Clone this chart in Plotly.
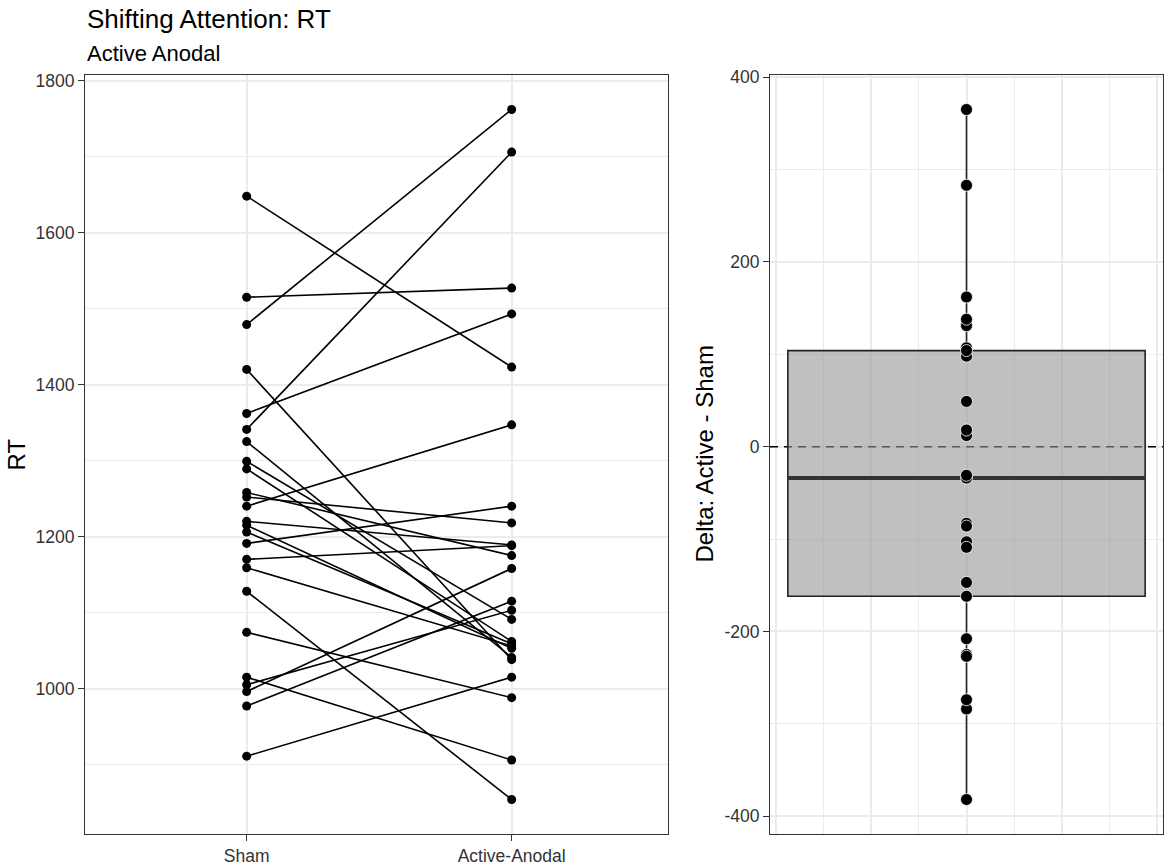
import numpy as np
import plotly.graph_objects as go

# paired reaction times, one entry per subject
conditions = ["Sham", "Active-Anodal"]
sham = [1648, 1515, 1479, 1420, 1362, 1341, 1325, 1299, 1289, 1258, 1252, 1240, 1220,
        1215, 1206, 1191, 1170, 1159, 1128, 1074, 1015, 1005, 996, 977, 911]
active = [1423, 1527, 1762, 1038, 1493, 1706, 1041, 1091, 1062, 1175, 1218, 1347, 1189,
          1053, 1059, 1240, 1188, 1056, 854, 988, 906, 1103, 1158, 1115, 1015]

rt_ticks = [1000, 1200, 1400, 1600, 1800]
delta_ticks = [-400, -200, 0, 200, 400]

title = "Shifting Attention: RT"
subtitle = "Active Anodal"

W, H = 1170, 865
BOX_W = 0.75
GRID = "#EBEBEB"
BORDER = "#333333"
TICKC = "#333333"
FONT = "Liberation Sans, Arial, sans-serif"

delta = np.array(active) - np.array(sham)

# segment list for the spaghetti plot
xs, ys = [], []
for s, a in zip(sham, active):
    xs += [conditions[0], conditions[1], None]
    ys += [s, a, None]

fig = go.Figure()

fig.add_trace(go.Scatter(
    x=xs, y=ys, mode="lines+markers",
    line=dict(color="black", width=1.6),
    marker=dict(color="black", size=9),
    xaxis="x", yaxis="y", hoverinfo="skip", showlegend=False))

# right panel: box of the differences (inclusive = R's type 7 for odd n)
fig.add_trace(go.Box(
    y=delta, x0=0, width=BOX_W, boxpoints=False, quartilemethod="inclusive",
    fillcolor="rgba(150,150,150,0.6)", line=dict(color="#222222", width=1.6),
    whiskerwidth=0, xaxis="x2", yaxis="y2", showlegend=False))

med = float(np.median(delta))
fig.add_trace(go.Scatter(
    x=[-BOX_W / 2, BOX_W / 2], y=[med, med], mode="lines",
    line=dict(color="#333333", width=4),
    xaxis="x2", yaxis="y2", hoverinfo="skip", showlegend=False))

fig.add_trace(go.Scatter(
    x=np.zeros(len(delta)), y=delta, mode="markers",
    marker=dict(color="black", size=12, line=dict(color="white", width=0.8)),
    xaxis="x2", yaxis="y2", hoverinfo="skip", showlegend=False))

# ggplot-style 5% expansion
allrt = sham + active
lo, hi = min(allrt), max(allrt)
pad = 0.05 * (hi - lo)
dlo, dhi = delta.min(), delta.max()
dpad = 0.05 * (dhi - dlo)
xpad = 0.05 * BOX_W
x2lo, x2hi = -BOX_W / 2 - xpad, BOX_W / 2 + xpad

fig.add_shape(type="line", xref="x2", x0=x2lo, x1=x2hi, yref="y2", y0=0, y1=0,
              layer="between", line=dict(color="black", width=1.5, dash="8px,6px"))

ydom = [1 - 834 / H, 1 - 75 / H]
tickfont = dict(family=FONT, size=17.5, color=TICKC)
titlefont = dict(family=FONT, size=24, color="black")

fig.update_layout(
    width=W, height=H,
    margin=dict(l=0, r=0, t=0, b=0),
    paper_bgcolor="white", plot_bgcolor="white",
    font=dict(family=FONT, color="black"),
    xaxis=dict(domain=[85 / W, 668 / W], type="category", range=[-0.61, 1.59],
               showgrid=True, gridcolor=GRID, gridwidth=1.6, zeroline=False,
               showline=True, mirror=True, linecolor=BORDER, linewidth=1,
               ticks="outside", ticklen=6, tickcolor=BORDER, tickfont=tickfont,
               automargin=False),
    yaxis=dict(domain=ydom, range=[lo - pad, hi + pad],
               tickvals=rt_ticks, ticktext=[str(v) for v in rt_ticks],
               showgrid=True, gridcolor=GRID, gridwidth=1.6, zeroline=False,
               minor=dict(dtick=100, tick0=0, showgrid=True, gridcolor=GRID, gridwidth=0.8),
               showline=True, mirror=True, linecolor=BORDER, linewidth=1,
               ticks="outside", ticklen=6, tickcolor=BORDER, tickfont=tickfont,
               automargin=False),
    xaxis2=dict(domain=[770 / W, 1163 / W], range=[x2lo, x2hi],
                dtick=0.2, tick0=0, showticklabels=False,
                showgrid=True, gridcolor=GRID, gridwidth=1.6, zeroline=False,
                minor=dict(dtick=0.1, showgrid=True, gridcolor=GRID, gridwidth=0.8),
                showline=True, mirror=True, linecolor=BORDER, linewidth=1,
                automargin=False),
    yaxis2=dict(domain=ydom, anchor="x2", range=[dlo - dpad, dhi + dpad],
                tickvals=delta_ticks, ticktext=[str(v) for v in delta_ticks],
                showgrid=True, gridcolor=GRID, gridwidth=1.6, zeroline=False,
                minor=dict(dtick=100, tick0=0, showgrid=True, gridcolor=GRID, gridwidth=0.8),
                showline=True, mirror=True, linecolor=BORDER, linewidth=1,
                ticks="outside", ticklen=6, tickcolor=BORDER, tickfont=tickfont,
                automargin=False),
    annotations=[
        dict(text=title, x=85 / W, y=1 - 19 / H, xref="paper", yref="paper",
             xanchor="left", yanchor="middle", showarrow=False,
             font=dict(family=FONT, size=26, color="black")),
        dict(text=subtitle, x=85 / W, y=1 - 54 / H, xref="paper", yref="paper",
             xanchor="left", yanchor="middle", showarrow=False,
             font=dict(family=FONT, size=22, color="black")),
        dict(text="RT", x=16 / W, y=(ydom[0] + ydom[1]) / 2, xref="paper", yref="paper",
             xanchor="center", yanchor="middle", textangle=-90, showarrow=False,
             font=titlefont),
        dict(text="Delta: Active - Sham", x=704 / W, y=(ydom[0] + ydom[1]) / 2,
             xref="paper", yref="paper", xanchor="center", yanchor="middle",
             textangle=-90, showarrow=False, font=titlefont),
    ],
)

# drop the default 8px page margin so the figure sits at the window corner
fig.write_html("out.html", config={"displayModeBar": False},
               post_script="document.body.style.margin='0px';")
